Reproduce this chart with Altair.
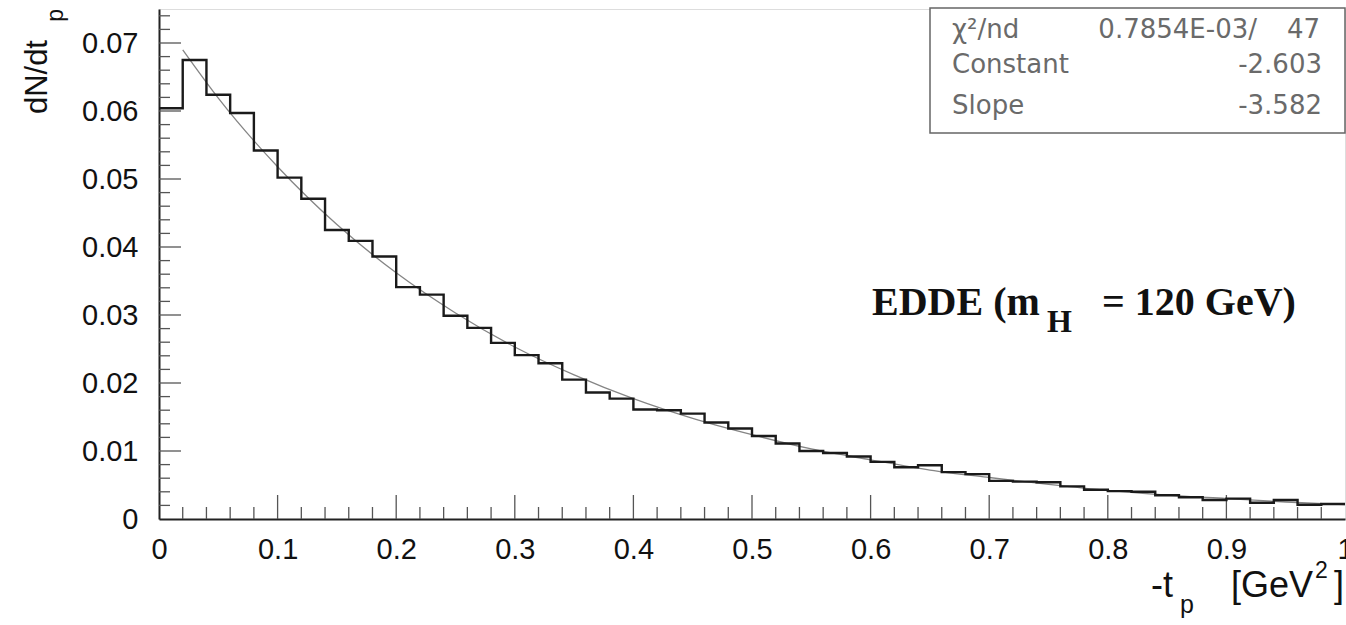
import altair as alt
import pandas as pd

# ---------------- data ----------------
bin_edges = [0.00, 0.02, 0.04, 0.06, 0.08, 0.10, 0.12, 0.14, 0.16, 0.18,
             0.20, 0.22, 0.24, 0.26, 0.28, 0.30, 0.32, 0.34, 0.36, 0.38,
             0.40, 0.42, 0.44, 0.46, 0.48, 0.50, 0.52, 0.54, 0.56, 0.58,
             0.60, 0.62, 0.64, 0.66, 0.68, 0.70, 0.72, 0.74, 0.76, 0.78,
             0.80, 0.82, 0.84, 0.86, 0.88, 0.90, 0.92, 0.94, 0.96, 0.98, 1.00]

hist_values = [0.0604, 0.0675, 0.0624, 0.0597, 0.0542, 0.0502, 0.0471, 0.0425, 0.0409, 0.0386,
               0.0341, 0.0330, 0.0299, 0.0281, 0.0259, 0.0241, 0.0229, 0.0205, 0.0186, 0.0177,
               0.0161, 0.0160, 0.0155, 0.0142, 0.0133, 0.0122, 0.0111, 0.0100, 0.0097, 0.0092,
               0.0084, 0.0076, 0.0079, 0.0069, 0.0066, 0.0056, 0.0055, 0.0054, 0.0048, 0.0043,
               0.0041, 0.0040, 0.0035, 0.0032, 0.0028, 0.0030, 0.0024, 0.0028, 0.0021, 0.0022]

fit_x = [0.02, 0.05, 0.10, 0.15, 0.20, 0.25, 0.30, 0.35, 0.40, 0.45, 0.50,
         0.55, 0.60, 0.65, 0.70, 0.75, 0.80, 0.85, 0.90, 0.95, 1.00]
fit_y = [0.0690, 0.0619, 0.0518, 0.0433, 0.0362, 0.0303, 0.0253, 0.0212, 0.0177, 0.0148, 0.0124,
         0.0103, 0.0087, 0.0072, 0.0061, 0.0051, 0.0042, 0.0035, 0.0030, 0.0025, 0.0021]

x_major = [0.0, 0.1, 0.2, 0.3, 0.4, 0.5, 0.6, 0.7, 0.8, 0.9, 1.0]
x_minor = [0.02, 0.04, 0.06, 0.08, 0.12, 0.14, 0.16, 0.18, 0.22, 0.24, 0.26, 0.28,
           0.32, 0.34, 0.36, 0.38, 0.42, 0.44, 0.46, 0.48, 0.52, 0.54, 0.56, 0.58,
           0.62, 0.64, 0.66, 0.68, 0.72, 0.74, 0.76, 0.78, 0.82, 0.84, 0.86, 0.88,
           0.92, 0.94, 0.96, 0.98]
y_major = [0.0, 0.01, 0.02, 0.03, 0.04, 0.05, 0.06, 0.07]
y_minor = [0.002, 0.004, 0.006, 0.008, 0.012, 0.014, 0.016, 0.018, 0.022, 0.024,
           0.026, 0.028, 0.032, 0.034, 0.036, 0.038, 0.042, 0.044, 0.046, 0.048,
           0.052, 0.054, 0.056, 0.058, 0.062, 0.064, 0.066, 0.068, 0.072, 0.074]

stat_names = ["Constant", "Slope"]
stat_values = ["-2.603", "-3.582"]
chi2_text = "0.7854E-03/"
ndf_text = "47"

# ---------------- layout ----------------
W, H = 1186, 510
FONT = "Liberation Sans"

hist_df = pd.DataFrame({"x": bin_edges, "y": hist_values + [hist_values[-1]]})
fit_df = pd.DataFrame({"x": fit_x, "y": fit_y})

xs = alt.Scale(domain=[0, 1], nice=False, zero=False)
ys = alt.Scale(domain=[0, 0.075], nice=False, zero=True)

x_axis = alt.Axis(values=x_major, ticks=False, grid=False, domain=True,
                  domainColor="#222", domainWidth=2, labelFont=FONT, labelFontSize=29,
                  labelColor="#111", labelPadding=16, title=None, labelFlush=False,
                  labelExpr="datum.value == 0 ? '0' : datum.value == 1 ? '1' : format(datum.value, '.1f')")
y_axis = alt.Axis(values=y_major, ticks=False, grid=False, domain=True,
                  domainColor="#222", domainWidth=2, labelFont=FONT, labelFontSize=29,
                  labelColor="#111", labelPadding=21, title=None,
                  labelExpr="datum.value == 0 ? '0' : format(datum.value, '.2f')")

hist = alt.Chart(hist_df).mark_line(interpolate="step-after", color="#1a1a1a",
                                    strokeWidth=2.4).encode(
    x=alt.X("x:Q", scale=xs, axis=x_axis),
    y=alt.Y("y:Q", scale=ys, axis=y_axis),
)

fit = alt.Chart(fit_df).mark_line(interpolate="monotone", color="#858585",
                                  strokeWidth=1.3).encode(
    x=alt.X("x:Q", scale=xs), y=alt.Y("y:Q", scale=ys))

def xticks(vals, length):
    return alt.Chart(pd.DataFrame({"v": vals})).mark_rule(color="#555", strokeWidth=1.3).encode(
        x=alt.X("v:Q", scale=xs), y=alt.value(H), y2=alt.value(H - length))

def yticks(vals, length):
    return alt.Chart(pd.DataFrame({"v": vals})).mark_rule(color="#555", strokeWidth=1.3).encode(
        y=alt.Y("v:Q", scale=ys), x=alt.value(0), x2=alt.value(length))

def txt(s, x, y, size, align="left", baseline="alphabetic", font=FONT, weight="normal",
        color="#111", angle=0):
    return alt.Chart(pd.DataFrame({"t": [s]})).mark_text(
        align=align, baseline=baseline, font=font, fontSize=size, fontWeight=weight,
        color=color, angle=angle).encode(text="t:N", x=alt.value(x), y=alt.value(y))

# stats box
box = alt.Chart(pd.DataFrame({"a": [0]})).mark_rect(
    fill="white", stroke="#666", strokeWidth=1.5).encode(
    x=alt.value(771), x2=alt.value(1186), y=alt.value(-1), y2=alt.value(124))

SC = "#6a6a6a"
SF = "DejaVu Sans"
SS = 26
stats = [
    txt("χ²/nd", 793, 29, SS, font=SF, color=SC),
    txt(chi2_text, 1098, 29, SS, align="right", font=SF, color=SC),
    txt(ndf_text, 1161, 29, SS, align="right", font=SF, color=SC),
    txt(stat_names[0], 793, 64, SS, font=SF, color=SC),
    txt(stat_values[0], 1163, 64, SS, align="right", font=SF, color=SC),
    txt(stat_names[1], 793, 105, SS, font=SF, color=SC),
    txt(stat_values[1], 1163, 105, SS, align="right", font=SF, color=SC),
]

SERIF = "Liberation Serif"
label = [
    txt("EDDE (m", 713, 306, 40, font=SERIF, weight="bold"),
    txt("H", 888, 323, 32, font=SERIF, weight="bold"),
    txt("= 120 GeV)", 1040, 306, 40, align="center", font=SERIF, weight="bold"),
]

# axis titles
titles = [
    txt("dN/dt", -112, 31, 31, align="right", angle=270),
    txt("p", -96, 0, 23, align="right", angle=270),
    txt("-t", 992, 588, 36),
    txt("p", 1021, 604, 25),
    txt("[GeV", 1154, 588, 36, align="right"),
    txt("2", 1156, 569, 23),
    txt("]", 1185, 588, 36, align="right"),
]

chart = alt.layer(
    xticks(x_minor, 12), xticks(x_major[1:-1], 24),
    yticks(y_minor, 11), yticks(y_major[1:], 22),
    fit, hist, box, *stats, *label, *titles,
).properties(
    width=W, height=H,
    padding={"left": 159, "top": 9, "right": 1, "bottom": 106},
    autosize=alt.AutoSizeParams(type="none"),
).configure_view(stroke="#777", strokeWidth=1.5).configure(background="white")

chart.save("out.html", embed_options={"renderer": "svg", "actions": False})
